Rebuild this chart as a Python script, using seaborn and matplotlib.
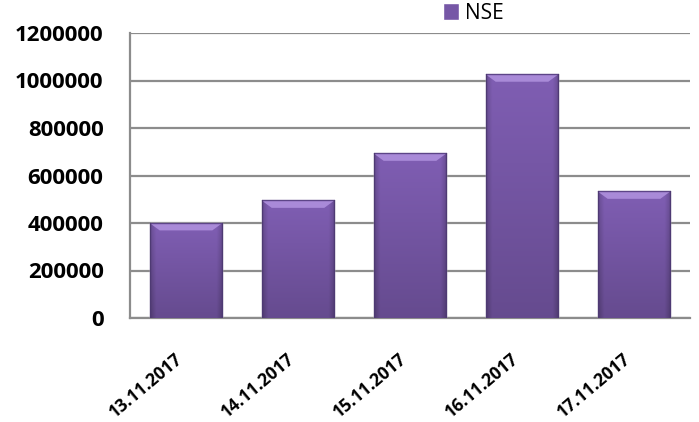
import numpy as np
import matplotlib
matplotlib.use("Agg")
import matplotlib.pyplot as plt
import seaborn as sns
from matplotlib.colors import to_rgb

# data
dates = ["13.11.2017", "14.11.2017", "15.11.2017", "16.11.2017", "17.11.2017"]
nse = [400000, 495000, 693000, 1026000, 533000]
y_ticks = [0, 200000, 400000, 600000, 800000, 1000000, 1200000]

sns.set_theme(style="white")
plt.rcParams["font.family"] = ["Open Sans", "DejaVu Sans"]

fig = plt.figure(figsize=(6.99, 4.22), dpi=100)
ax = fig.add_axes([130 / 699, 1 - 318 / 422, 560 / 699, 285 / 422])

base = "#7657a6"
sns.barplot(x=dates, y=nse, color=base, width=0.65, saturation=1, ax=ax,
            label="NSE", zorder=3)

# soft bevel / gradient on each bar like the original
def bar_shade(h_px=120, w_px=60):
    yy = np.linspace(0, 1, h_px)[:, None]    # 0 = top, 1 = bottom
    xx = np.linspace(0, 1, w_px)[None, :]
    shade = 1.08 - 0.22 * yy
    edge = np.minimum(xx, 1 - xx)
    shade = shade - 0.18 * np.clip(0.08 - edge, 0, None) / 0.08
    img = np.clip(np.array(to_rgb(base))[None, None, :] * shade[:, :, None], 0, 1)
    return img

for p in ax.patches:
    x0, w, h = p.get_x(), p.get_width(), p.get_height()
    im = ax.imshow(bar_shade(), extent=[x0, x0 + w, 0, h], aspect="auto",
                   zorder=4, interpolation="bilinear")
    im.set_clip_path(p)
    # light top band
    band = h - 0.026 * 1200000
    ax.fill([x0, x0 + w, x0 + w - 0.09, x0 + 0.09],
            [h, h, band, band], color="#a98ad8", zorder=5, lw=0)
    ax.plot([x0, x0 + w], [h, h], color="#5d4588", lw=1, zorder=6)
    ax.plot([x0, x0], [0, h], color="#4e3a73", lw=1, zorder=6)
    ax.plot([x0 + w, x0 + w], [0, h], color="#4e3a73", lw=1, zorder=6)

ax.set_ylim(0, 1200000)
ax.set_xlim(-0.5, 4.5)
ax.set_yticks(y_ticks)
ax.set_yticklabels([str(v) for v in y_ticks], fontsize=16, fontweight="bold")
ax.set_xticks(range(len(dates)))
ax.set_xticklabels(dates, rotation=40, ha="right", va="top",
                   fontsize=12.5, fontweight="bold")
ax.tick_params(axis="y", length=0, pad=19, colors="black")
ax.tick_params(axis="x", length=0, pad=23, colors="black")

ax.grid(axis="y", color="#8c8c8c", lw=1.6, zorder=0)
ax.set_axisbelow(True)
for s in ["top", "right"]:
    ax.spines[s].set_visible(False)
for s in ["left", "bottom"]:
    ax.spines[s].set_color("#8c8c8c")
    ax.spines[s].set_linewidth(1.6)

ax.legend(loc="upper left", bbox_to_anchor=(443 / 699, 1 - 3 / 422),
          bbox_transform=fig.transFigure, frameon=False, fontsize=15,
          handlelength=0.75, handleheight=0.85, handletextpad=0.3,
          borderpad=0, borderaxespad=0, labelcolor="black")

fig.savefig("out.png", dpi=100)
